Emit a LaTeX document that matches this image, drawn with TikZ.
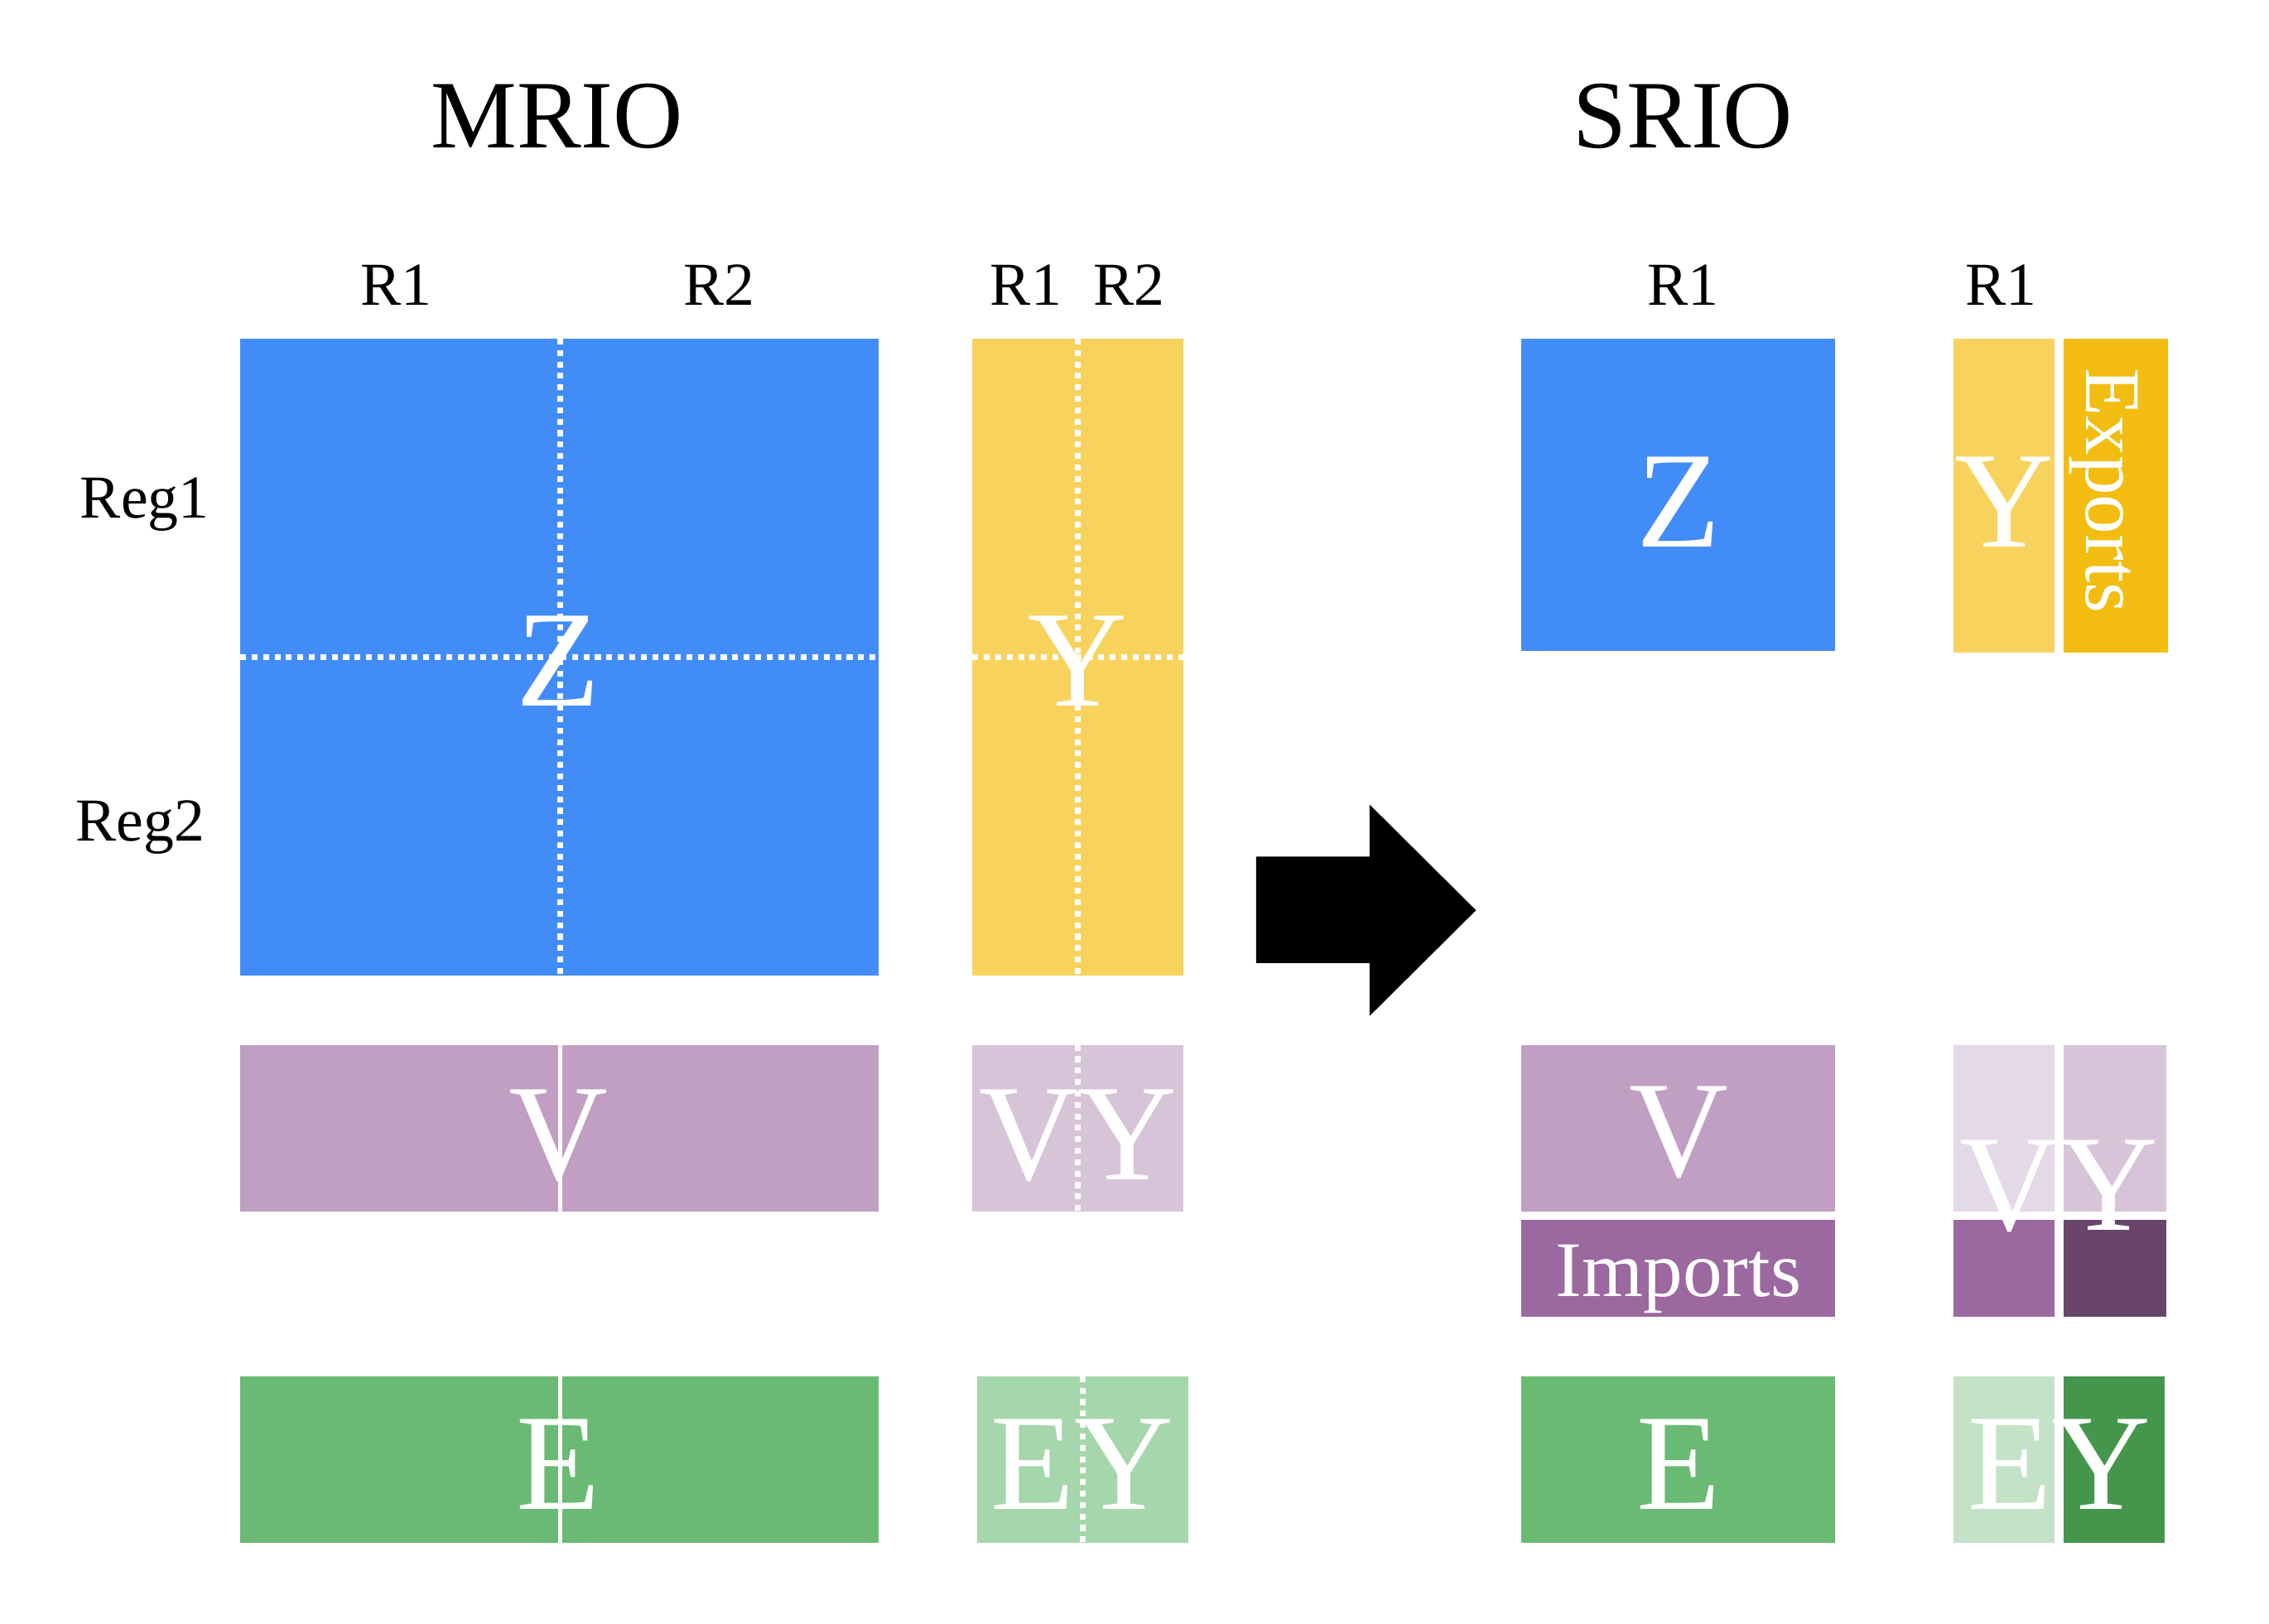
\documentclass[tikz,border=0pt]{standalone}
\usepackage{fontspec}
\setmainfont{Liberation Serif}
\definecolor{zblue}{HTML}{428CF8}
\definecolor{yyell}{HTML}{F7D35E}
\definecolor{ygold}{HTML}{F2BD10}
\definecolor{vpurp}{HTML}{C09FC2}
\definecolor{vylite}{HTML}{D8C4D9}
\definecolor{vypale}{HTML}{E4D9E7}
\definecolor{impurp}{HTML}{9B68A0}
\definecolor{vydark}{HTML}{69456C}
\definecolor{egreen}{HTML}{69BA72}
\definecolor{eylite}{HTML}{A6D6AB}
\definecolor{eypale}{HTML}{C4E2C7}
\definecolor{eydark}{HTML}{44964C}
\tikzset{
  ttl/.style={font=\fontsize{38}{40}\selectfont, inner sep=0pt, anchor=base},
  lbl/.style={font=\fontsize{24}{26}\selectfont, inner sep=0pt, anchor=base},
  big/.style={font=\fontsize{54}{56}\selectfont, text=white, inner sep=0pt, anchor=base},
  sub/.style={font=\fontsize{31}{33}\selectfont, text=white, inner sep=0pt},
  dots/.style={white, line width=2.3pt, dash pattern=on 2.3pt off 2.2pt},
  sepline/.style={white, line width=1.7pt},
}
\begin{document}
\begin{tikzpicture}[x=0.2mm,y=-0.2mm]
  \useasboundingbox (0,0) rectangle (1568,1122);
  \node[ttl] (mrio) at (385,102) {MRIO};
  \node[ttl] (srio) at (1163,102) {SRIO};
  \foreach \x/\t/\n in {274/R1/a,497/R2/b,709/R1/c,780/R2/d,1163/R1/e,1383/R1/f}
    \node[lbl] (col\n) at (\x,211) {\t};
  \node[lbl] (reg1) at (100,358) {Reg1};
  \node[lbl] (reg2) at (97,581) {Reg2};

  \fill[zblue] (166,234) rectangle (607,674);
  \fill[yyell] (672,234) rectangle (818,674);
  \fill[vpurp] (166,722) rectangle (607,837);
  \fill[vylite] (672,722) rectangle (818,837);
  \fill[egreen] (166,951) rectangle (607,1066);
  \fill[eylite] (675,951) rectangle (821,1066);
  \node[big] (zM) at (386,488) {Z};
  \node[big] (yM) at (745,488) {Y};
  \node[big] (vM) at (386,815) {V};
  \node[big] (vyM) at (745,815) {VY};
  \node[big] (eM) at (386,1043) {E};
  \node[big] (eyM) at (748,1043) {EY};
  \draw[dots] (387,234) -- (387,674);
  \draw[dots] (166,454) -- (607,454);
  \draw[dots] (745,234) -- (745,674);
  \draw[dots] (672,454) -- (818,454);
  \draw[dots] (745,722) -- (745,837);
  \draw[dots] (748,951) -- (748,1066);
  \draw[sepline] (387,722) -- (387,837);
  \draw[sepline] (387,951) -- (387,1066);

  \fill (868,592) -- (946.5,592) -- (946.5,556) -- (1020,629)
    -- (946.5,702) -- (946.5,665.5) -- (868,665.5) -- cycle;

  \fill[zblue] (1051,234) rectangle (1268,450);
  \fill[yyell] (1350,234) rectangle (1420,451);
  \fill[ygold] (1426,234) rectangle (1498,451);
  \fill[vpurp] (1051,722) rectangle (1268,837);
  \fill[impurp] (1051,843) rectangle (1268,910);
  \fill[vypale] (1350,722) rectangle (1420,837);
  \fill[vylite] (1426,722) rectangle (1497,837);
  \fill[impurp] (1350,843) rectangle (1420,910);
  \fill[vydark] (1426,843) rectangle (1497,910);
  \fill[egreen] (1051,951) rectangle (1268,1066);
  \fill[eypale] (1350,951) rectangle (1420,1066);
  \fill[eydark] (1426,951) rectangle (1496,1066);
  \node[big] (zS) at (1160,378) {Z};
  \node[big] (yS) at (1385,378) {Y};
  \node[sub, rotate=-90, anchor=base west] (exS) at (1442,254) {Exports};
  \node[big] (vS) at (1160,813) {V};
  \node[sub, anchor=base] (imS) at (1160,896) {Imports};
  \node[big] (vyS) at (1423,850) {VY};
  \node[big] (eS) at (1160,1043) {E};
  \node[big] (eyS) at (1423,1043) {EY};
\end{tikzpicture}
\end{document}
